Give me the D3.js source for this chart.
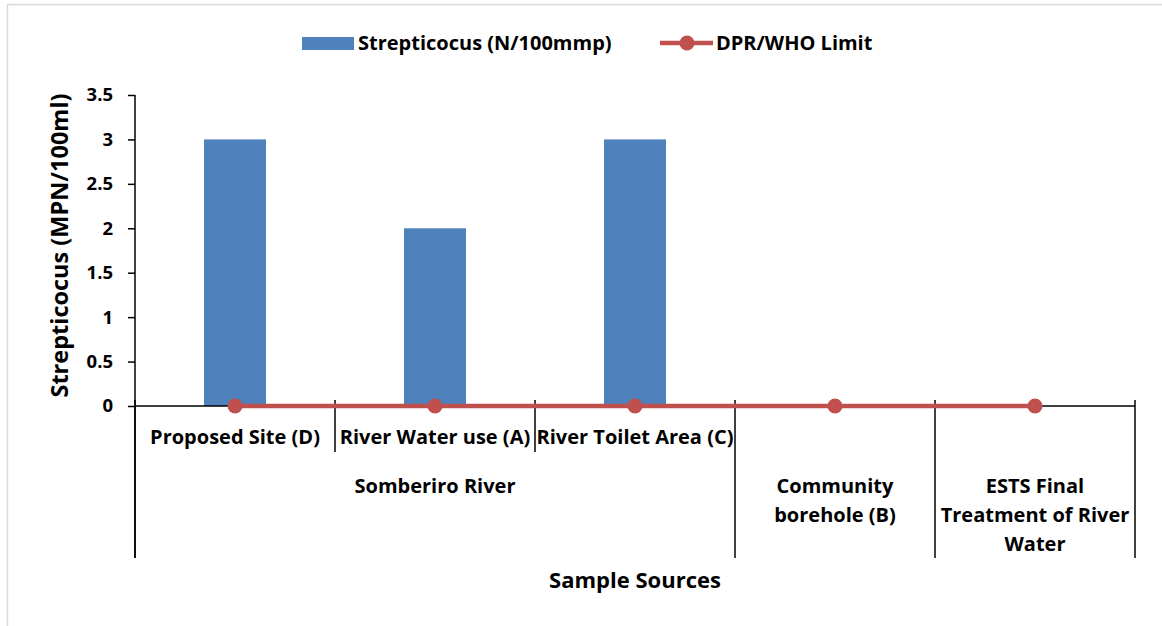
<!DOCTYPE html>
<html>
<head>
<meta charset="utf-8">
<script src="https://cdn.jsdelivr.net/npm/d3@7"></script>
<style>
  body { margin: 0; background: #fff; }
  text { font-family: "Open Sans", Lato, sans-serif; font-weight: bold; fill: #000; }
</style>
</head>
<body>
<div id="chart"></div>
<script>
// Data
const categories = ["Proposed Site (D)", "River Water use (A)", "River Toilet Area (C)",
                    "Community borehole (B)", "ESTS Final Treatment of River Water"];
const catLines = [["Proposed Site (D)"], ["River Water use (A)"], ["River Toilet Area (C)"],
                  [], []];
const groups = [
  {name: ["Somberiro River"], from: 0, to: 2},
  {name: ["Community", "borehole (B)"], from: 3, to: 3},
  {name: ["ESTS Final", "Treatment of River", "Water"], from: 4, to: 4}
];
const strepValues = [3, 2, 3, 0, 0];
const limitValues = [0, 0, 0, 0, 0];
const yTicks = [0, 0.5, 1, 1.5, 2, 2.5, 3, 3.5];

const W = 1162, H = 626;
const plot = {left: 135, right: 1135, top: 95, bottom: 406};

const svg = d3.select("#chart").append("svg")
    .attr("width", W)
    .attr("height", H);

// light frame of the chart area
svg.append("rect")
    .attr("x", 7.5).attr("y", 4.5)
    .attr("width", W + 20).attr("height", H + 20)
    .attr("fill", "none")
    .attr("stroke", "#d9d9d9")
    .attr("stroke-width", 1.5);

const x = d3.scaleBand()
    .domain(categories)
    .range([plot.left, plot.right])
    .padding(0);

const y = d3.scaleLinear()
    .domain([0, 3.5])
    .range([plot.bottom, plot.top]);

const barW = x.bandwidth() * 0.31;

// bars
svg.append("g")
  .selectAll("rect")
  .data(strepValues.map((v, i) => ({cat: categories[i], v})))
  .enter().append("rect")
    .attr("x", d => x(d.cat) + x.bandwidth() / 2 - barW / 2)
    .attr("y", d => y(d.v))
    .attr("width", barW)
    .attr("height", d => y(0) - y(d.v))
    .attr("fill", "#4F81BD");

// y axis
const yAxis = svg.append("g")
    .attr("transform", `translate(${plot.left},0)`)
    .call(d3.axisLeft(y).tickValues(yTicks).tickSize(7).tickPadding(15)
        .tickFormat(d => d));
yAxis.select(".domain").remove();
yAxis.selectAll(".tick line").attr("stroke", "#000").attr("stroke-width", 1.5);
yAxis.selectAll(".tick text").style("font-size", "18.5px");

svg.append("line")
    .attr("x1", plot.left).attr("x2", plot.left)
    .attr("y1", plot.top).attr("y2", 558)
    .attr("stroke", "#000").attr("stroke-width", 1.5);

// x baseline
svg.append("line")
    .attr("x1", plot.left).attr("x2", plot.right)
    .attr("y1", y(0)).attr("y2", y(0))
    .attr("stroke", "#000").attr("stroke-width", 1.5);

// category separators
const bounds = d3.range(categories.length + 1);
svg.append("g")
  .selectAll("line")
  .data(bounds)
  .enter().append("line")
    .attr("x1", i => plot.left + i * x.step())
    .attr("x2", i => plot.left + i * x.step())
    .attr("y1", y(0) - 6)
    .attr("y2", i => (i === 1 || i === 2) ? 452 : 558)
    .attr("stroke", "#000").attr("stroke-width", 1.5);

// category labels
svg.append("g")
  .selectAll("text")
  .data(catLines.map((l, i) => ({l, cat: categories[i]})).filter(d => d.l.length))
  .enter().append("text")
    .attr("x", d => x(d.cat) + x.bandwidth() / 2)
    .attr("y", 444)
    .attr("text-anchor", "middle")
    .style("font-size", "20px")
    .text(d => d.l[0]);

// group labels
groups.forEach(g => {
  const cx = (x(categories[g.from]) + x(categories[g.to]) + x.bandwidth()) / 2;
  const t = svg.append("text")
      .attr("x", cx)
      .attr("y", 493)
      .attr("text-anchor", "middle")
      .style("font-size", "20px");
  g.name.forEach((s, k) => {
    t.append("tspan").attr("x", cx).attr("dy", k === 0 ? 0 : 29).text(s);
  });
});

// limit line
const line = d3.line()
    .x((d, i) => x(categories[i]) + x.bandwidth() / 2)
    .y(d => y(d));
svg.append("path")
    .datum(limitValues)
    .attr("d", line)
    .attr("fill", "none")
    .attr("stroke", "#C0504D")
    .attr("stroke-width", 4.5);
svg.append("g")
  .selectAll("circle")
  .data(limitValues)
  .enter().append("circle")
    .attr("cx", (d, i) => x(categories[i]) + x.bandwidth() / 2)
    .attr("cy", d => y(d))
    .attr("r", 7.5)
    .attr("fill", "#C0504D");

// axis titles
svg.append("text")
    .attr("x", (plot.left + plot.right) / 2)
    .attr("y", 588)
    .attr("text-anchor", "middle")
    .style("font-size", "22px")
    .text("Sample Sources");

svg.append("text")
    .attr("transform", `translate(68,${(plot.top + plot.bottom) / 2 - 5}) rotate(-90)`)
    .attr("text-anchor", "middle")
    .style("font-size", "23.5px")
    .text("Strepticocus (MPN/100ml)");

// legend
const lg = svg.append("g").attr("transform", "translate(0,43)");
lg.append("rect")
    .attr("x", 302).attr("y", -6).attr("width", 52).attr("height", 13)
    .attr("fill", "#4F81BD");
lg.append("text")
    .attr("x", 358).attr("y", 7)
    .style("font-size", "20px")
    .text("Strepticocus (N/100mmp)");
lg.append("line")
    .attr("x1", 660).attr("x2", 713)
    .attr("stroke", "#C0504D").attr("stroke-width", 4.5);
lg.append("circle")
    .attr("cx", 687).attr("r", 7.5).attr("fill", "#C0504D");
lg.append("text")
    .attr("x", 716).attr("y", 7)
    .style("font-size", "20px")
    .text("DPR/WHO Limit");
</script>
</body>
</html>
